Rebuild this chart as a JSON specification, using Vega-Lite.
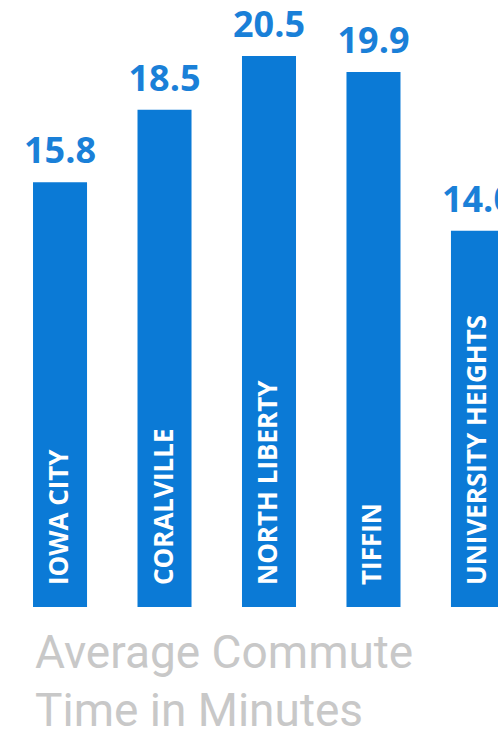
{
  "$schema": "https://vega.github.io/schema/vega-lite/v6.json",
  "width": 498,
  "height": 607,
  "autosize": {"type": "none"},
  "padding": {"left": 0, "top": 0, "right": 0, "bottom": 130},
  "background": "white",
  "config": {"view": {"stroke": null}},
  "title": {
    "text": ["Average Commute", "Time in Minutes"],
    "orient": "bottom",
    "anchor": "start",
    "frame": "bounds",
    "font": "Roboto",
    "fontSize": 46,
    "fontWeight": "normal",
    "color": "#c8c8c8",
    "lineHeight": 58,
    "offset": 25,
    "dx": 35
  },
  "data": {
    "values": [
      {"city": "IOWA CITY", "minutes": 15.8},
      {"city": "CORALVILLE", "minutes": 18.5},
      {"city": "NORTH LIBERTY", "minutes": 20.5},
      {"city": "TIFFIN", "minutes": 19.9},
      {"city": "UNIVERSITY HEIGHTS", "minutes": 14.0}
    ]
  },
  "encoding": {
    "x": {
      "field": "city",
      "type": "nominal",
      "sort": null,
      "axis": null,
      "scale": {"range": [0, 538], "paddingInner": 0.483, "paddingOuter": 0.316}
    }
  },
  "layer": [
    {
      "mark": {"type": "bar", "color": "#0b7ad6"},
      "encoding": {
        "y": {"field": "minutes", "type": "quantitative", "axis": null, "scale": {"domain": [0, 22.58], "nice": false}}
      }
    },
    {
      "mark": {"type": "text", "font": "Open Sans", "fontWeight": "bold", "fontSize": 36, "color": "#1a80d8", "baseline": "bottom", "dy": -11},
      "encoding": {
        "y": {"field": "minutes", "type": "quantitative"},
        "text": {"field": "minutes", "type": "quantitative", "format": ".1f"}
      }
    },
    {
      "mark": {"type": "text", "font": "Open Sans", "fontWeight": "bold", "fontSize": 26, "color": "white", "angle": 270, "align": "left", "baseline": "middle", "dx": 22},
      "encoding": {
        "y": {"datum": 0, "type": "quantitative"},
        "text": {"field": "city", "type": "nominal"}
      }
    }
  ]
}
